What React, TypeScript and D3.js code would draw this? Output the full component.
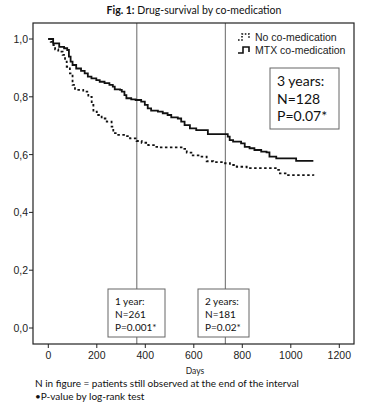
import React from "react";
import * as d3 from "d3";

// Kaplan-Meier step points (day, survival)
const mtxDays = [0, 20, 45, 65, 78, 85, 92, 100, 115, 135, 150, 163, 178, 198, 212, 232, 252, 266, 274, 296, 303, 314, 322, 342, 360, 383, 398, 410, 424, 452, 472, 492, 507, 534, 548, 562, 584, 610, 658, 740, 748, 762, 795, 810, 830, 850, 878, 900, 912, 940, 1022, 1093];
const mtxSurv = [1.0, 0.985, 0.973, 0.968, 0.962, 0.939, 0.922, 0.91, 0.898, 0.89, 0.881, 0.87, 0.864, 0.858, 0.852, 0.847, 0.841, 0.835, 0.826, 0.824, 0.818, 0.806, 0.795, 0.791, 0.789, 0.783, 0.772, 0.76, 0.752, 0.749, 0.743, 0.737, 0.729, 0.725, 0.714, 0.702, 0.691, 0.685, 0.671, 0.662, 0.65, 0.645, 0.639, 0.627, 0.622, 0.616, 0.61, 0.608, 0.593, 0.587, 0.578, 0.578];

const noDays = [0, 10, 21, 28, 41, 59, 69, 76, 89, 100, 110, 144, 165, 179, 186, 200, 220, 241, 261, 268, 282, 316, 337, 364, 385, 412, 440, 454, 557, 571, 590, 626, 653, 680, 729, 749, 777, 818, 948, 955, 983, 1093];
const noSurv = [1.0, 0.99, 0.979, 0.964, 0.956, 0.945, 0.922, 0.904, 0.881, 0.841, 0.824, 0.818, 0.8, 0.772, 0.749, 0.737, 0.725, 0.714, 0.697, 0.674, 0.668, 0.664, 0.656, 0.647, 0.641, 0.633, 0.627, 0.625, 0.62, 0.607, 0.597, 0.593, 0.577, 0.574, 0.57, 0.564, 0.558, 0.553, 0.547, 0.535, 0.529, 0.527];

const xTicks = [0, 200, 400, 600, 800, 1000, 1200];
const yTicks = [0, 0.2, 0.4, 0.6, 0.8, 1.0];
const markers = [
  { day: 365, lines: ["1 year:", "N=261", "P=0.001*"] },
  { day: 730, lines: ["2 years:", "N=181", "P=0.02*"] },
];
const threeYear = ["3 years:", "N=128", "P=0.07*"];
const footnotes = [
  "N in figure = patients still observed at the end of the interval",
  "\u2022P-value by log-rank test",
];

const W = 392;
const H = 411;
const frame = { left: 33, top: 23, right: 354, bottom: 344 };

export default function App() {
  const x = d3.scaleLinear().domain([0, 1200]).range([48.3, 339.3]);
  const y = d3.scaleLinear().domain([0, 1]).range([328, 39]);

  const line = d3
    .line<[number, number]>()
    .x((d) => x(d[0]))
    .y((d) => y(d[1]))
    .curve(d3.curveStepAfter);

  const mtx = mtxDays.map((d, i) => [d, mtxSurv[i]] as [number, number]);
  const no = noDays.map((d, i) => [d, noSurv[i]] as [number, number]);

  const axisFont = "'Liberation Sans', Arial, sans-serif";
  const textFont = "Lato, 'Open Sans', sans-serif";

  return (
    <svg
      width={W}
      height={H}
      style={{ position: "absolute", left: 0, top: 0, background: "#fff" }}
    >
      <text x={194} y={14} textAnchor="middle" fontFamily={textFont} fontSize={10.5} fill="#111">
        <tspan fontWeight="bold">Fig. 1:</tspan> Drug-survival by co-medication
      </text>

      {/* vertical reference lines */}
      {markers.map((m) => (
        <line
          key={m.day}
          x1={x(m.day)}
          x2={x(m.day)}
          y1={frame.top}
          y2={frame.bottom}
          stroke="#666"
          strokeWidth={1}
        />
      ))}

      {/* curves */}
      <path d={line(no) || ""} fill="none" stroke="#111" strokeWidth={1.8} strokeDasharray="2.5,2.5" />
      <path d={line(mtx) || ""} fill="none" stroke="#111" strokeWidth={1.8} />

      {/* frame */}
      <rect
        x={frame.left}
        y={frame.top}
        width={frame.right - frame.left}
        height={frame.bottom - frame.top}
        fill="none"
        stroke="#222"
        strokeWidth={1.2}
      />

      {/* y axis */}
      {yTicks.map((t) => (
        <g key={t}>
          <line x1={frame.left - 4} x2={frame.left} y1={y(t)} y2={y(t)} stroke="#222" />
          <text
            x={frame.left - 5}
            y={y(t) + 4}
            textAnchor="end"
            fontFamily={axisFont}
            fontSize={10.5}
            fill="#222"
          >
            {t.toFixed(1).replace(".", ",")}
          </text>
        </g>
      ))}

      {/* x axis */}
      {xTicks.map((t) => (
        <g key={t}>
          <line x1={x(t)} x2={x(t)} y1={frame.bottom} y2={frame.bottom + 4} stroke="#222" />
          <text
            x={x(t)}
            y={frame.bottom + 15}
            textAnchor="middle"
            fontFamily={axisFont}
            fontSize={10.5}
            fill="#222"
          >
            {t}
          </text>
        </g>
      ))}
      <text x={195} y={374} textAnchor="middle" fontFamily={textFont} fontSize={8.5} fill="#222">
        Days
      </text>

      {/* legend */}
      <path d="M238,40 H242 V34 H249 V39" fill="none" stroke="#111" strokeWidth={1.6} strokeDasharray="1.6,1.6" />
      <text x={255} y={41} fontFamily={axisFont} fontSize={10.5} fill="#222">
        No co-medication
      </text>
      <path d="M238,53 H243 V47 H249 V52" fill="none" stroke="#111" strokeWidth={1.6} />
      <text x={255} y={54} fontFamily={axisFont} fontSize={10.5} fill="#222">
        MTX co-medication
      </text>

      {/* 3 years box */}
      <rect x={270} y={68} width={69} height={61} fill="#fff" stroke="#666" strokeWidth={1} />
      {threeYear.map((s, i) => (
        <text key={s} x={277} y={86 + i * 17.5} fontFamily={textFont} fontSize={14} fill="#111">
          {s}
        </text>
      ))}

      {/* 1 and 2 year boxes */}
      {markers.map((m, j) => {
        const bx = j === 0 ? 108 : 198;
        const bw = j === 0 ? 57 : 51;
        return (
          <g key={"b" + m.day}>
            <rect x={bx} y={289} width={bw} height={48} fill="#fff" stroke="#666" strokeWidth={1} />
            {m.lines.map((s, i) => (
              <text key={s} x={bx + 7} y={305 + i * 13} fontFamily={textFont} fontSize={10} fill="#111">
                {s}
              </text>
            ))}
          </g>
        );
      })}

      {/* footnotes */}
      {footnotes.map((s, i) => (
        <text key={s} x={35} y={387 + i * 12.5} fontFamily={textFont} fontSize={10} fill="#111">
          {s}
        </text>
      ))}
    </svg>
  );
}
